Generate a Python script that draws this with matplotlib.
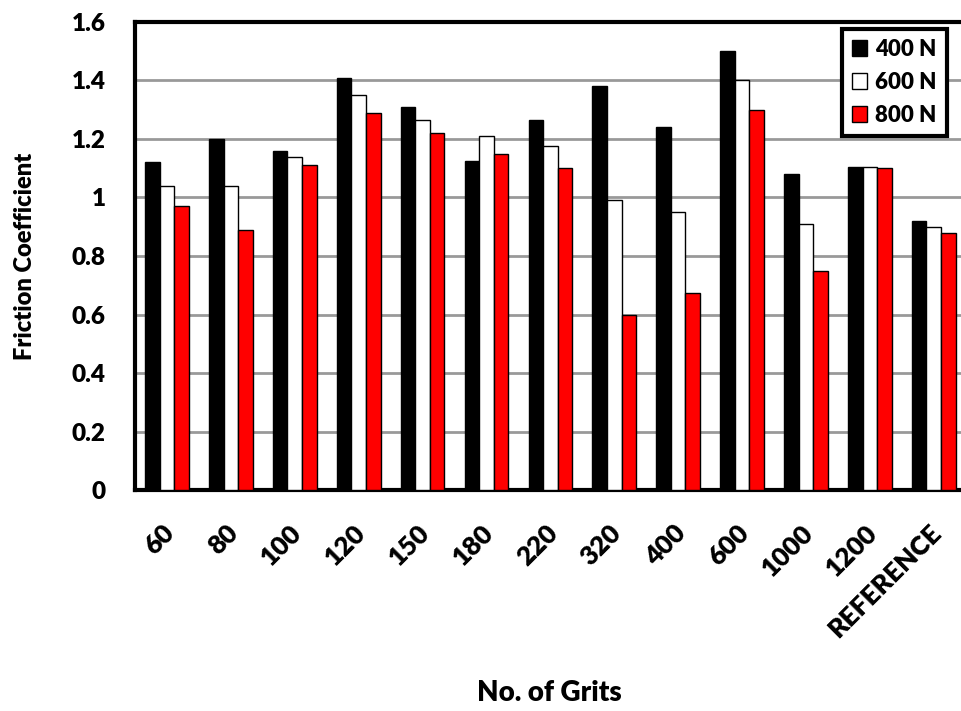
import numpy as np
import matplotlib.pyplot as plt

plt.rcParams['font.family'] = ['Lato', 'DejaVu Sans']
plt.rcParams['font.weight'] = 'heavy'

grits = ['60', '80', '100', '120', '150', '180', '220', '320', '400', '600', '1000', '1200', 'REFERENCE']
f400 = [1.12, 1.20, 1.16, 1.41, 1.31, 1.125, 1.265, 1.38, 1.24, 1.50, 1.08, 1.105, 0.92]
f600 = [1.04, 1.04, 1.14, 1.35, 1.265, 1.21, 1.175, 0.99, 0.95, 1.40, 0.91, 1.105, 0.90]
f800 = [0.97, 0.89, 1.11, 1.29, 1.22, 1.15, 1.10, 0.60, 0.675, 1.30, 0.75, 1.10, 0.88]
series = ['400 N', '600 N', '800 N']
colors = ['black', 'white', '#ff0000']


def main():
	fig = plt.figure(figsize=(9.61, 7.11), dpi=100)
	ax = fig.add_axes([0.1405, 0.3108, 0.8644, 0.6583])

	x = np.arange(len(grits))
	w = 0.228
	for i, (vals, c, lab) in enumerate(zip([f400, f600, f800], colors, series)):
		ax.bar(x + (i - 1) * w, vals, width=w, color=c, edgecolor='black',
			linewidth=1.0, label=lab, zorder=3)

	ax.set_xlim(-0.5, len(grits) - 0.5)
	ax.set_ylim(0, 1.6)
	ax.set_yticks(np.arange(0, 1.61, 0.2))
	ax.set_yticklabels(['0', '0.2', '0.4', '0.6', '0.8', '1', '1.2', '1.4', '1.6'])
	ax.yaxis.grid(True, color='#999999', linewidth=2, zorder=0)
	ax.set_axisbelow(True)

	ax.set_xticks(x + 0.05)
	ax.set_xticklabels(grits, rotation=45, ha='right', va='center', rotation_mode='anchor')
	ax.tick_params(axis='x', length=0, pad=28, labelsize=19)
	ax.tick_params(axis='y', length=0, pad=21, labelsize=17.5)

	for s in ['left', 'bottom', 'top', 'right']:
		ax.spines[s].set_linewidth(3)

	ax.set_ylabel('Friction Coefficient', fontsize=17, fontweight='heavy')
	ax.yaxis.set_label_coords(-0.119, 0.5)
	ax.set_xlabel('No. of Grits', fontsize=20, fontweight='heavy')
	ax.xaxis.set_label_coords(0.499, -0.405)

	leg = ax.legend(loc='upper right', bbox_to_anchor=(0.977, 0.986), fontsize=16,
		fancybox=False, framealpha=1, edgecolor='black', handlelength=0.7,
		handleheight=0.7, handletextpad=0.35, borderpad=0.45, labelspacing=0.55,
		borderaxespad=0)
	leg.get_frame().set_linewidth(3)

	fig.savefig('out.png', dpi=100)


main()
